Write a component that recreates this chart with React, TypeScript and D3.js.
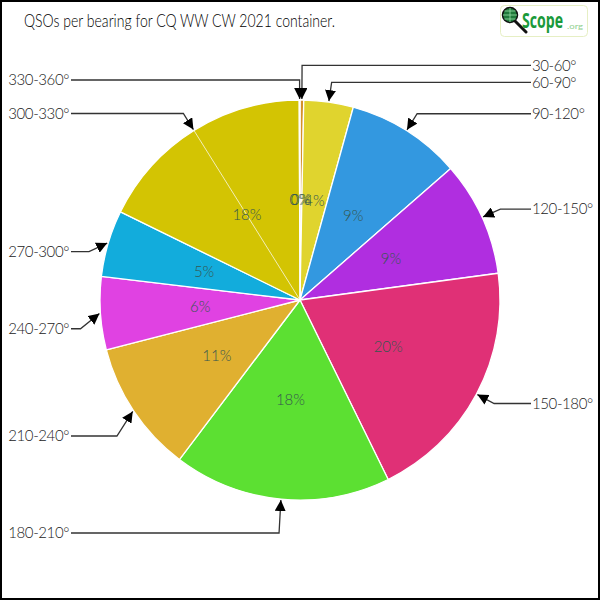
import React from "react";
import * as d3 from "d3";

const bearings = ["30-60°", "60-90°", "90-120°", "120-150°", "150-180°", "180-210°", "210-240°", "240-270°", "270-300°", "300-330°", "330-360°"];
const qsos = [3, 40, 93, 93, 199, 176, 107, 59, 54, 177, 0.6];
const colors = ["#d4912a", "#e0d42e", "#3398e0", "#b02ee0", "#e03076", "#5ce032", "#e0b030", "#e042e2", "#12acdc", "#d3c403", "#d3c403"];
const title = "QSOs per bearing for CQ WW CW 2021 container.";

const W = 600, H = 600, cx = 300, cy = 300, R = 200;
const FONT = "Lato, 'Open Sans', sans-serif";

export default function App() {
  const total = d3.sum(qsos);
  const pie = d3.pie<number>().sort(null).value((d) => d).startAngle(0).endAngle(2 * Math.PI);
  const arcs = pie(qsos);
  const arcGen = d3.arc<d3.PieArcDatum<number>>().innerRadius(0).outerRadius(R);
  const pt = (a: number, r: number) => [cx + r * Math.sin(a), cy - r * Math.cos(a)];

  type Lab = { i: number; tip: number[]; ex: number; ey: number; right: boolean };
  const labs: Lab[] = arcs.map((a, i) => {
    const m = (a.startAngle + a.endAngle) / 2;
    const [ex, ey] = pt(m, 220);
    const right = Math.sin(m) >= 0;
    return { i, tip: pt(m, 201), ex, ey, right };
  });
  // left side lower labels dropped slightly
  labs.forEach((l) => {
    if (!l.right && l.ey > cy - 100) l.ey += 14;
  });
  // right side collision: push up
  const rs = labs.filter((l) => l.right).sort((a, b) => a.ey - b.ey);
  for (let k = rs.length - 2; k >= 0; k--) {
    if (rs[k].ey > rs[k + 1].ey - 17) rs[k].ey = rs[k + 1].ey - 17;
  }

  return (
    <svg width={W} height={H} style={{ position: "absolute", left: 0, top: 0, background: "#fff" }} fontFamily={FONT}>
      <defs>
        <marker id="arr" viewBox="0 0 10 10" refX="10" refY="5" markerWidth="11" markerHeight="11" markerUnits="userSpaceOnUse" orient="auto">
          <path d="M0,0 L10,5 L0,10 Z" fill="#000" />
        </marker>
      </defs>
      <rect x={1} y={1} width={W - 2} height={H - 2} fill="#fff" stroke="#000" strokeWidth={2} />
      <text x={24} y={27} fontSize={17} fill="#000" fontWeight={300} textLength={311} lengthAdjust="spacingAndGlyphs">{title}</text>
      {/* logo */}
      <g>
        <rect x={500.5} y={5.5} width={87} height={31} rx={4} fill="#fff" stroke="#e6efc4" strokeWidth={1} />
        <line x1={510} y1={16} x2={526} y2={32} stroke="#111" strokeWidth={3} strokeLinecap="round" />
        <circle cx={510} cy={15} r={7.5} fill="#1f7a3a" stroke="#111" strokeWidth={1.5} />
        <path d="M503,15 H517 M510,8 V22 M504.5,11 H515.5 M504.5,19 H515.5" stroke="#9be0a8" strokeWidth={0.8} />
        <text x={522} y={28} fontSize={21} fontWeight={700} fill="#1a9a3a" fontFamily="'Open Sans', sans-serif" textLength={41} lengthAdjust="spacingAndGlyphs">Scope</text>
        <text x={567} y={29} fontSize={8} fill="#8fd08f" textLength={16} lengthAdjust="spacingAndGlyphs">.org</text>
      </g>
      <g>
        {arcs.map((a, i) => (
          <path key={i} d={arcGen(a) || ""} transform={`translate(${cx},${cy})`} fill={colors[i]} stroke="#fff" strokeWidth={1.3} strokeLinejoin="round" />
        ))}
        {arcs.map((a, i) => {
          const m = (a.startAngle + a.endAngle) / 2;
          const p = pt(m, R);
          return i === 9 ? (
            <line key={"ml" + i} x1={cx} y1={cy} x2={p[0]} y2={p[1]} stroke="#fff" strokeWidth={0.8} opacity={0.9} />
          ) : null;
        })}
        {arcs.map((a, i) => {
          const m = (a.startAngle + a.endAngle) / 2;
          const p = pt(m, 100);
          return (
            <text key={"p" + i} x={p[0]} y={p[1]} dy="0.35em" textAnchor="middle" fontSize={15} fill="#35574f" fontWeight={300}>
              {Math.round((qsos[i] / total) * 100)}%
            </text>
          );
        })}
      </g>
      <g>
        {labs.map((l) => {
          const tx = l.right ? 531 : 71;
          return (
            <g key={"l" + l.i}>
              <polyline points={`${tx},${l.ey} ${l.ex},${l.ey} ${l.tip[0]},${l.tip[1]}`} fill="none" stroke="#333" strokeWidth={1.3} markerEnd="url(#arr)" />
              <text x={l.right ? 532 : 69} y={l.ey} dy="0.35em" textAnchor={l.right ? "start" : "end"} fontSize={15} fill="#222" fontWeight={300} letterSpacing={-0.4}>
                {bearings[l.i]}
              </text>
            </g>
          );
        })}
      </g>
    </svg>
  );
}
